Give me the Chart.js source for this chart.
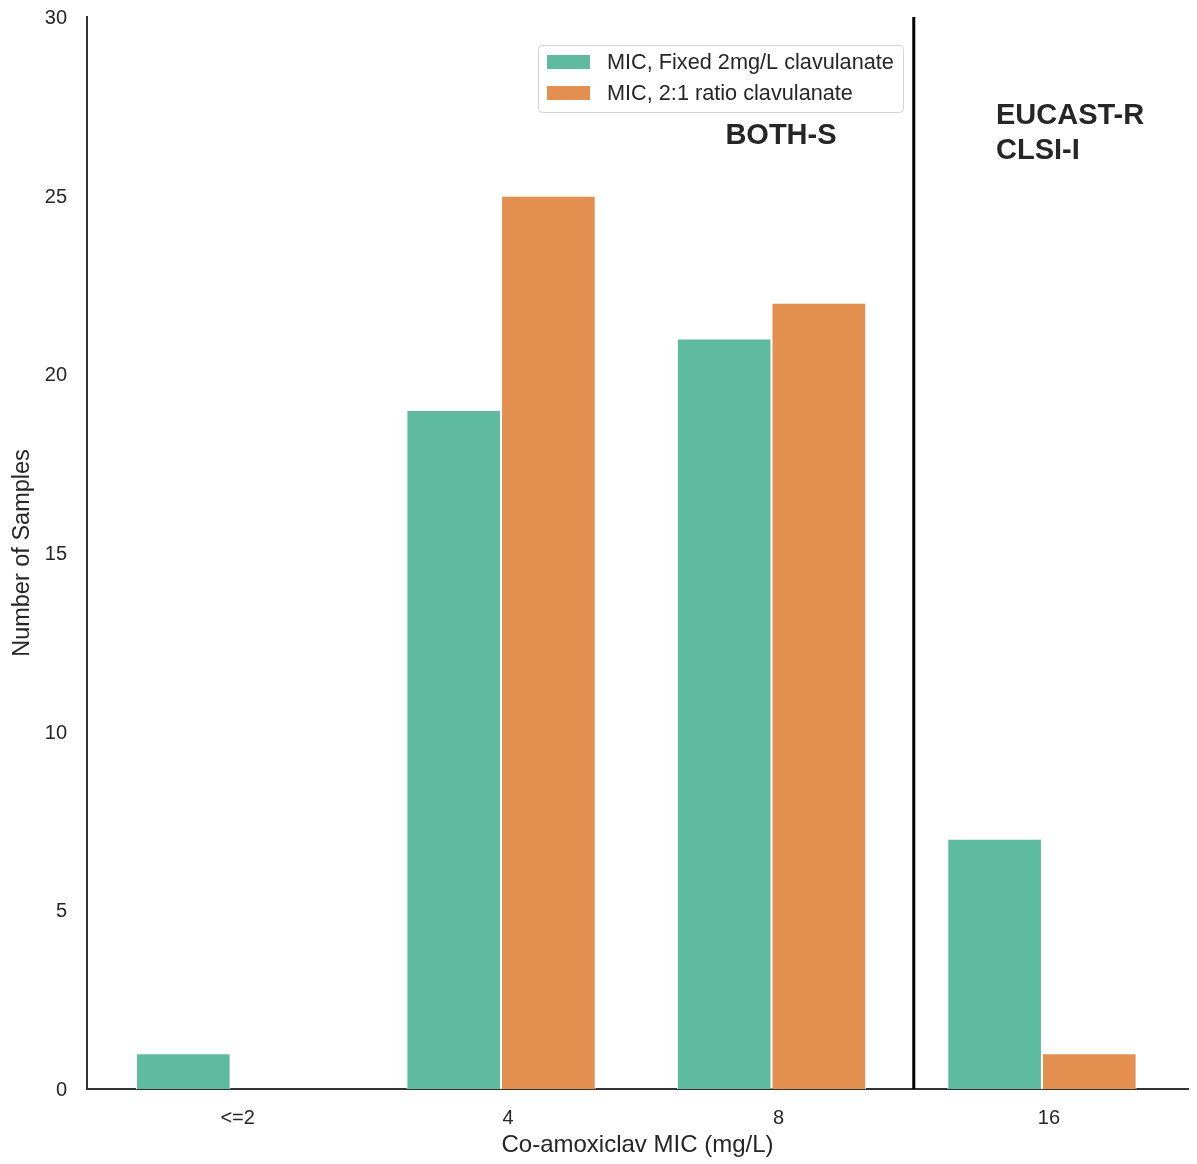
<!DOCTYPE html>
<html>
<head>
<meta charset="utf-8">
<title>Co-amoxiclav MIC distribution</title>
<script src="https://cdn.jsdelivr.net/npm/chart.js@4.4.1/dist/chart.umd.min.js"></script>
<style>
  html, body { margin: 0; padding: 0; background: #ffffff; }
  #wrap { width: 1197px; height: 1164px; }
</style>
</head>
<body>
<div id="wrap"><canvas id="chart" width="1197" height="1164"></canvas></div>
<script>
// MIC categories and sample counts for each clavulanate method
const categories = ['<=2', '4', '8', '16'];
const fixedClav = [1, 19, 21, 7];
const ratioClav = [0, 25, 22, 1];
const seriesNames = ['MIC, Fixed 2mg/L clavulanate', 'MIC, 2:1 ratio clavulanate'];
const yTicks = [0, 5, 10, 15, 20, 25, 30];

// breakpoint separating the susceptible group from the resistant one
const breakpoint = 2.5;
// region labels: text lines with their anchor (x, y) in data units
const regionLabels = [
  { lines: ['BOTH-S'], x: 2.035, y: 26.75, align: 'center' },
  { lines: ['EUCAST-R', 'CLSI-I'], x: 2.83, y: 27.3, align: 'left' }
];

const shift = 0.026;           // tick labels sit slightly right of the bar groups
const FONT = '"Liberation Sans", Arial, Helvetica, sans-serif';
const TEXT = '#262626';
const colors = ['#5fbb9f', '#e28f4f'];

const toPoints = arr => arr.map((v, i) => ({ x: i, y: v }));

const overlay = {
  id: 'overlay',
  afterDatasetsDraw(chart) {
    const { ctx, chartArea, scales: { x, y } } = chart;
    ctx.save();
    // breakpoint line
    const bx = x.getPixelForValue(breakpoint + shift);
    ctx.strokeStyle = '#000000';
    ctx.lineWidth = 3;
    ctx.beginPath();
    ctx.moveTo(bx, chartArea.top);
    ctx.lineTo(bx, chartArea.bottom);
    ctx.stroke();

    // region labels
    ctx.fillStyle = TEXT;
    ctx.font = 'bold 29px ' + FONT;
    ctx.textBaseline = 'alphabetic';
    regionLabels.forEach(r => {
      ctx.textAlign = r.align;
      const px = x.getPixelForValue(r.x);
      const py = y.getPixelForValue(r.y);
      r.lines.forEach((t, k) => ctx.fillText(t, px, py + 11 + k * 35));
    });

    // legend
    const lx = 538, ly = 45, lw = 365, lh = 67;
    ctx.beginPath();
    ctx.roundRect(lx + 0.5, ly + 0.5, lw, lh, 4);
    ctx.fillStyle = 'rgba(255,255,255,0.85)';
    ctx.fill();
    ctx.strokeStyle = '#d4d4d4';
    ctx.lineWidth = 1;
    ctx.stroke();
    ctx.font = '21.7px ' + FONT;
    ctx.textAlign = 'left';
    ctx.textBaseline = 'middle';
    seriesNames.forEach((name, k) => {
      const cy = ly + 17 + k * 31;
      ctx.fillStyle = colors[k];
      ctx.fillRect(lx + 9, cy - 7, 43, 14);
      ctx.fillStyle = TEXT;
      ctx.fillText(name, lx + 69, cy + 1);
    });
    ctx.restore();
  }
};

new Chart(document.getElementById('chart'), {
  type: 'bar',
  data: {
    datasets: [
      { label: seriesNames[0], data: toPoints(fixedClav), backgroundColor: colors[0],
        borderColor: '#ffffff', borderWidth: 1, categoryPercentage: 0.7, barPercentage: 1.0 },
      { label: seriesNames[1], data: toPoints(ratioClav), backgroundColor: colors[1],
        borderColor: '#ffffff', borderWidth: 1, categoryPercentage: 0.7, barPercentage: 1.0 }
    ]
  },
  options: {
    responsive: false,
    animation: false,
    devicePixelRatio: 1,
    layout: { padding: { top: 17, right: 9, left: 0, bottom: 0 } },
    plugins: { legend: { display: false }, tooltip: { enabled: false } },
    scales: {
      x: {
        type: 'linear',
        offset: false,
        min: -0.531,
        max: 3.54,
        grid: { display: false, drawTicks: false, offset: false },
        border: { display: true, color: '#333333', width: 2 },
        afterBuildTicks: axis => { axis.ticks = categories.map((c, i) => ({ value: i + shift })); },
        afterFit: axis => { axis.height = 75; axis.paddingLeft = 0; axis.paddingRight = 0; },
        ticks: {
          color: TEXT,
          font: { family: FONT, size: 20 },
          padding: 17,
          maxRotation: 0,
          autoSkip: false,
          callback: v => categories[Math.round(v - shift)]
        },
        title: {
          display: true,
          text: 'Co-amoxiclav MIC (mg/L)',
          color: TEXT,
          font: { family: FONT, size: 24 },
          padding: { top: 0, bottom: 4 }
        }
      },
      y: {
        min: 0,
        max: 30,
        grid: { display: false, drawTicks: false },
        border: { display: true, color: '#333333', width: 2 },
        afterBuildTicks: axis => { axis.ticks = yTicks.map(v => ({ value: v })); },
        afterFit: axis => { axis.width = 87; axis.paddingTop = 0; axis.paddingBottom = 0; },
        ticks: {
          color: TEXT,
          font: { family: FONT, size: 20 },
          padding: 20,
          labelOffset: 1.5
        },
        title: {
          display: true,
          text: 'Number of Samples',
          color: TEXT,
          font: { family: FONT, size: 23.5 },
          padding: { top: 8, bottom: 0 }
        }
      }
    }
  },
  plugins: [overlay]
});
</script>
</body>
</html>
